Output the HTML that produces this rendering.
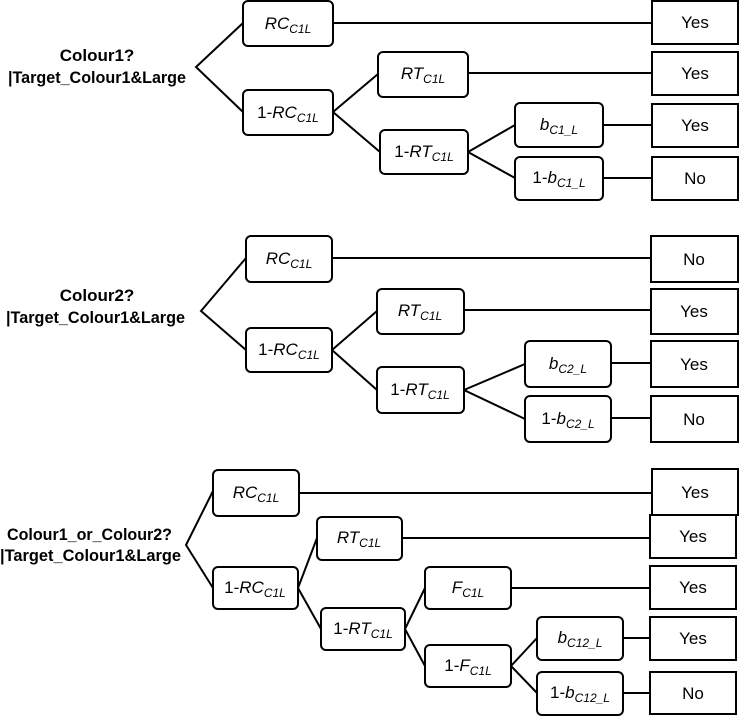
<!DOCTYPE html>
<html><head><meta charset="utf-8"><style>
html,body{margin:0;padding:0;background:#fff;}
svg{display:block;}
.b{fill:#fff;stroke:#000;stroke-width:2;}
.l{stroke:#000;stroke-width:2;fill:none;}
.t{font-family:"Liberation Sans",sans-serif;font-size:17px;font-style:italic;}
.s{font-size:12px;}
.y{font-family:"Liberation Sans",sans-serif;font-size:17px;}
.r{font-family:"Liberation Sans",sans-serif;font-size:17px;font-weight:bold;}
</style></head><body>
<svg width="740" height="716" viewBox="0 0 740 716" xmlns="http://www.w3.org/2000/svg">
<!-- ===== TOP ===== -->
<text class="r" x="97" y="61" text-anchor="middle">Colour1?</text>
<text class="r" x="8" y="83" textLength="178" lengthAdjust="spacingAndGlyphs">|Target_Colour1&amp;Large</text>
<polyline class="l" points="243,23 196,67 243,112"/>
<line class="l" x1="333" y1="23" x2="652" y2="23"/>
<polyline class="l" points="378,74 333,112 380,152"/>
<line class="l" x1="468" y1="73" x2="652" y2="73"/>
<polyline class="l" points="515,125 468,152 515,178"/>
<line class="l" x1="603" y1="125" x2="652" y2="125"/>
<line class="l" x1="603" y1="178" x2="652" y2="178"/>
<rect class="b" x="243" y="1" width="90" height="45" rx="5"/>
<text class="t" x="288" y="29" text-anchor="middle">RC<tspan class="s" dy="4">C1L</tspan></text>
<rect class="b" x="243" y="90" width="90" height="45" rx="5"/>
<text class="t" x="288" y="118" text-anchor="middle"><tspan font-style="normal">1-</tspan>RC<tspan class="s" dy="4">C1L</tspan></text>
<rect class="b" x="378" y="52" width="90" height="45" rx="5"/>
<text class="t" x="423" y="79" text-anchor="middle">RT<tspan class="s" dy="4">C1L</tspan></text>
<rect class="b" x="380" y="130" width="88" height="44" rx="5"/>
<text class="t" x="424" y="157" text-anchor="middle"><tspan font-style="normal">1-</tspan>RT<tspan class="s" dy="4">C1L</tspan></text>
<rect class="b" x="515" y="103" width="88" height="44" rx="5"/>
<text class="t" x="559" y="130" text-anchor="middle">b<tspan class="s" dy="4">C1_L</tspan></text>
<rect class="b" x="515" y="157" width="88" height="43" rx="5"/>
<text class="t" x="559" y="183" text-anchor="middle"><tspan font-style="normal">1-</tspan>b<tspan class="s" dy="4">C1_L</tspan></text>
<rect class="b" x="652" y="1" width="86" height="43"/><text class="y" x="695" y="28" text-anchor="middle">Yes</text>
<rect class="b" x="652" y="52" width="86" height="43"/><text class="y" x="695" y="79" text-anchor="middle">Yes</text>
<rect class="b" x="652" y="104" width="86" height="43"/><text class="y" x="695" y="131" text-anchor="middle">Yes</text>
<rect class="b" x="652" y="157" width="86" height="43"/><text class="y" x="695" y="184" text-anchor="middle">No</text>

<!-- ===== MIDDLE ===== -->
<text class="r" x="97" y="301" text-anchor="middle">Colour2?</text>
<text class="r" x="6" y="323" textLength="179" lengthAdjust="spacingAndGlyphs">|Target_Colour1&amp;Large</text>
<polyline class="l" points="246,258 201,311 246,350"/>
<line class="l" x1="332" y1="258" x2="651" y2="258"/>
<polyline class="l" points="377,311 332,350 377,390"/>
<line class="l" x1="464" y1="310" x2="651" y2="310"/>
<polyline class="l" points="525,364 464,390 525,419"/>
<line class="l" x1="611" y1="363" x2="651" y2="363"/>
<line class="l" x1="611" y1="418" x2="651" y2="418"/>
<rect class="b" x="246" y="236" width="86" height="46" rx="5"/>
<text class="t" x="289" y="264" text-anchor="middle">RC<tspan class="s" dy="4">C1L</tspan></text>
<rect class="b" x="246" y="328" width="86" height="44" rx="5"/>
<text class="t" x="289" y="355" text-anchor="middle"><tspan font-style="normal">1-</tspan>RC<tspan class="s" dy="4">C1L</tspan></text>
<rect class="b" x="377" y="289" width="87" height="45" rx="5"/>
<text class="t" x="420" y="316" text-anchor="middle">RT<tspan class="s" dy="4">C1L</tspan></text>
<rect class="b" x="377" y="367" width="87" height="46" rx="5"/>
<text class="t" x="420" y="395" text-anchor="middle"><tspan font-style="normal">1-</tspan>RT<tspan class="s" dy="4">C1L</tspan></text>
<rect class="b" x="525" y="341" width="86" height="46" rx="5"/>
<text class="t" x="568" y="369" text-anchor="middle">b<tspan class="s" dy="4">C2_L</tspan></text>
<rect class="b" x="525" y="396" width="86" height="46" rx="5"/>
<text class="t" x="568" y="424" text-anchor="middle"><tspan font-style="normal">1-</tspan>b<tspan class="s" dy="4">C2_L</tspan></text>
<rect class="b" x="651" y="236" width="87" height="46"/><text class="y" x="694" y="265" text-anchor="middle">No</text>
<rect class="b" x="651" y="289" width="87" height="45"/><text class="y" x="694" y="317" text-anchor="middle">Yes</text>
<rect class="b" x="651" y="341" width="87" height="46"/><text class="y" x="694" y="370" text-anchor="middle">Yes</text>
<rect class="b" x="651" y="396" width="87" height="46"/><text class="y" x="694" y="425" text-anchor="middle">No</text>

<!-- ===== BOTTOM ===== -->
<text class="r" x="7" y="540" textLength="165" lengthAdjust="spacingAndGlyphs">Colour1_or_Colour2?</text>
<text class="r" x="0" y="561" textLength="181" lengthAdjust="spacingAndGlyphs">|Target_Colour1&amp;Large</text>
<polyline class="l" points="213,491 186,545 213,588"/>
<line class="l" x1="299" y1="493" x2="652" y2="493"/>
<polyline class="l" points="317,538 298,588 321,629"/>
<line class="l" x1="402" y1="538" x2="650" y2="538"/>
<polyline class="l" points="425,588 405,629 425,666"/>
<line class="l" x1="511" y1="588" x2="650" y2="588"/>
<polyline class="l" points="537,638 511,666 537,693"/>
<line class="l" x1="623" y1="638" x2="650" y2="638"/>
<line class="l" x1="623" y1="693" x2="650" y2="693"/>
<rect class="b" x="213" y="470" width="86" height="46" rx="5"/>
<text class="t" x="256" y="498" text-anchor="middle">RC<tspan class="s" dy="4">C1L</tspan></text>
<rect class="b" x="213" y="567" width="85" height="42" rx="5"/>
<text class="t" x="255" y="593" text-anchor="middle"><tspan font-style="normal">1-</tspan>RC<tspan class="s" dy="4">C1L</tspan></text>
<rect class="b" x="317" y="517" width="85" height="43" rx="5"/>
<text class="t" x="359" y="543" text-anchor="middle">RT<tspan class="s" dy="4">C1L</tspan></text>
<rect class="b" x="321" y="608" width="84" height="42" rx="5"/>
<text class="t" x="363" y="634" text-anchor="middle"><tspan font-style="normal">1-</tspan>RT<tspan class="s" dy="4">C1L</tspan></text>
<rect class="b" x="425" y="567" width="86" height="42" rx="5"/>
<text class="t" x="468" y="593" text-anchor="middle">F<tspan class="s" dy="4">C1L</tspan></text>
<rect class="b" x="425" y="645" width="86" height="42" rx="5"/>
<text class="t" x="468" y="671" text-anchor="middle"><tspan font-style="normal">1-</tspan>F<tspan class="s" dy="4">C1L</tspan></text>
<rect class="b" x="537" y="617" width="86" height="43" rx="5"/>
<text class="t" x="580" y="643" text-anchor="middle">b<tspan class="s" dy="4">C12_L</tspan></text>
<rect class="b" x="537" y="672" width="86" height="43" rx="5"/>
<text class="t" x="580" y="698" text-anchor="middle"><tspan font-style="normal">1-</tspan>b<tspan class="s" dy="4">C12_L</tspan></text>
<rect class="b" x="652" y="469" width="86" height="46"/><text class="y" x="695" y="498" text-anchor="middle">Yes</text>
<rect class="b" x="650" y="515" width="86" height="43"/><text class="y" x="693" y="542" text-anchor="middle">Yes</text>
<rect class="b" x="650" y="566" width="86" height="43"/><text class="y" x="693" y="593" text-anchor="middle">Yes</text>
<rect class="b" x="650" y="617" width="86" height="43"/><text class="y" x="693" y="644" text-anchor="middle">Yes</text>
<rect class="b" x="650" y="672" width="86" height="42"/><text class="y" x="693" y="699" text-anchor="middle">No</text>
</svg>
</body></html>
